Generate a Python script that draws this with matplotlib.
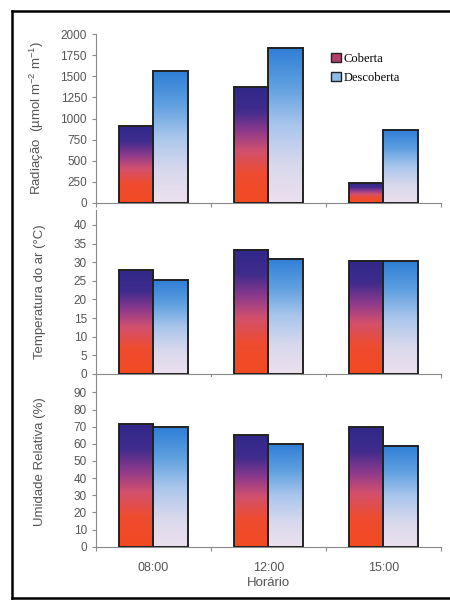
import numpy as np
import matplotlib
matplotlib.use('Agg')
from matplotlib import pyplot as plt
from matplotlib.colors import LinearSegmentedColormap
from matplotlib.patches import Patch
from matplotlib.lines import Line2D

plt.rcParams['font.family'] = ['Liberation Sans', 'DejaVu Sans']
plt.rcParams['mathtext.fontset'] = 'custom'
plt.rcParams['mathtext.rm'] = 'Liberation Sans'
plt.rcParams['mathtext.it'] = 'Liberation Sans:italic'

horarios = ['08:00', '12:00', '15:00']
series = ['Coberta', 'Descoberta']

radiacao_coberta = [910, 1370, 232]
radiacao_descoberta = [1560, 1835, 858]
temp_coberta = [27.8, 33.4, 30.4]
temp_descoberta = [25.1, 30.9, 30.3]
umid_coberta = [71.7, 65.3, 70.0]
umid_descoberta = [69.9, 60.0, 59.0]

cmap_cob = LinearSegmentedColormap.from_list(
    'cob', [(0.0, '#f24a22'), (0.25, '#ee4c30'), (0.45, '#d2506e'),
            (0.62, '#8e3a8c'), (0.8, '#3f2c8c'), (1.0, '#31288a')])
cmap_desc = LinearSegmentedColormap.from_list(
    'desc', [(0.0, '#ece0ee'), (0.25, '#d8d8ec'), (0.5, '#a9c6ec'),
             (0.75, '#5e9fe0'), (1.0, '#2f7ed6')])

TXT = '#555555'


def gradient_bars(ax, x, heights, cmap):
    bars = ax.bar(x, heights, width=0.3, facecolor='none', edgecolor='#222222',
                  linewidth=1.4, zorder=3)
    grad = np.linspace(0, 1, 256).reshape(-1, 1)
    for b in bars:
        x0, y0 = b.get_x(), b.get_y()
        ax.imshow(grad, cmap=cmap, origin='lower', aspect='auto',
                  extent=(x0, x0 + b.get_width(), y0, y0 + b.get_height()),
                  zorder=2, interpolation='bilinear')
    return bars


def style_axis(ax, ylim, yticks, ylabel, show_x):
    ax.set_xlim(-0.5, 2.5)
    ax.set_ylim(*ylim)
    ax.set_yticks(yticks)
    ax.set_ylabel(ylabel, fontsize=9.5, color=TXT, labelpad=8)
    ax.yaxis.set_label_coords(-0.145, 0.5)
    for s in ['top', 'right']:
        ax.spines[s].set_visible(False)
    for s in ['left', 'bottom']:
        ax.spines[s].set_color('#8a8a8a')
        ax.spines[s].set_linewidth(0.8)
    ax.tick_params(axis='y', colors='#8a8a8a', labelcolor=TXT, labelsize=8.5,
                   length=3, width=0.8)
    ax.set_xticks(np.arange(len(horarios)))
    ax.set_xticks([-0.5, 0.5, 1.5, 2.5], minor=True)
    ax.tick_params(axis='x', which='major', length=0, labelsize=9,
                   labelcolor=TXT, pad=11)
    ax.tick_params(axis='x', which='minor', length=3, width=0.8,
                   color='#8a8a8a')
    if show_x:
        ax.set_xticklabels(horarios)
        ax.set_xlabel('Horário', fontsize=9.5, color=TXT, labelpad=2)
    else:
        ax.set_xticklabels([])


fig = plt.figure(figsize=(4.5, 6), dpi=100)
fig.patch.set_facecolor('white')

ax1 = fig.add_axes([0.2133, 0.6617, 0.7667, 0.2816])
ax2 = fig.add_axes([0.2133, 0.3767, 0.7667, 0.2733])
ax3 = fig.add_axes([0.2133, 0.0889, 0.7667, 0.2828])

x = np.arange(len(horarios))
panels = [
    (ax1, radiacao_coberta, radiacao_descoberta, (0, 2000),
     np.arange(0, 2001, 250), 'Radiação  (µmol m$^{-2}$ m$^{-1}$)', False),
    (ax2, temp_coberta, temp_descoberta, (0, 44),
     np.arange(0, 41, 5), 'Temperatura do ar (°C)', False),
    (ax3, umid_coberta, umid_descoberta, (0, 99),
     np.arange(0, 91, 10), 'Umidade Relativa (%)', True),
]
for ax, cob, desc, ylim, yt, lab, showx in panels:
    gradient_bars(ax, x - 0.15, cob, cmap_cob)
    gradient_bars(ax, x + 0.15, desc, cmap_desc)
    style_axis(ax, ylim, yt, lab, showx)

handles = [Patch(facecolor='#b0406e', edgecolor='#222222', linewidth=1.0),
           Patch(facecolor='#8fbbe8', edgecolor='#222222', linewidth=1.0)]
ax1.legend(handles, series, loc='upper left', bbox_to_anchor=(0.65, 0.955),
           frameon=False, handlelength=0.8, handleheight=0.8,
           handletextpad=0.2, labelspacing=0.55,
           prop={'family': ['Liberation Serif', 'DejaVu Serif'], 'size': 9})

# page frame around the figure
fig.add_artist(Line2D([0.027, 0.027], [0.982, 0.003], color='black', lw=1.8))
fig.add_artist(Line2D([0.027, 1.0], [0.982, 0.982], color='black', lw=1.8))
fig.add_artist(Line2D([0.027, 1.0], [0.003, 0.003], color='black', lw=1.8))

fig.savefig('out.png', dpi=100)
